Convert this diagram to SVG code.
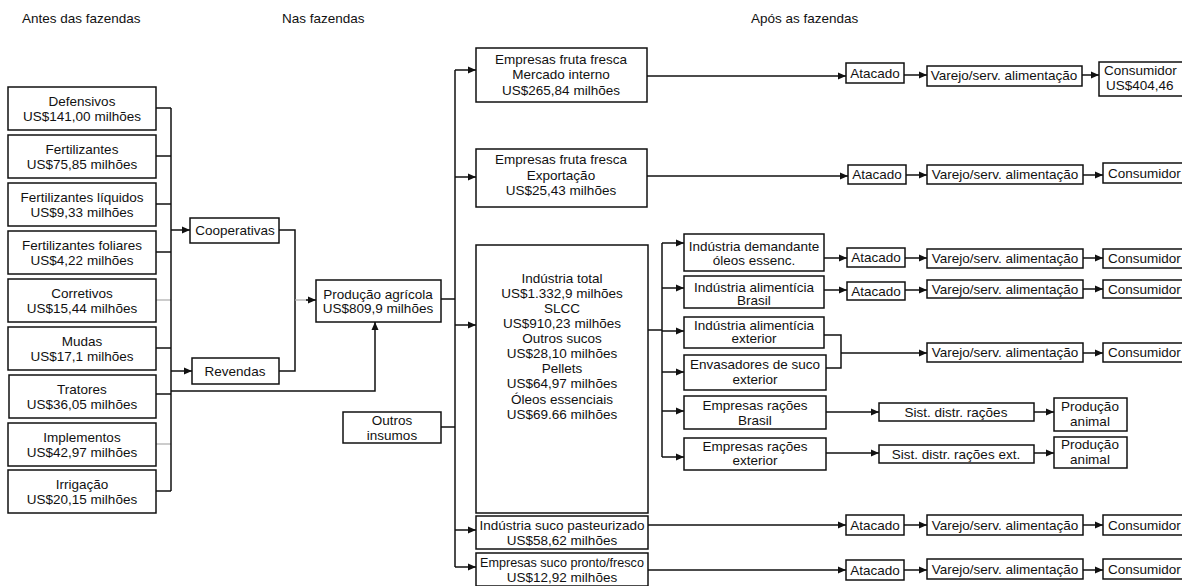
<svg xmlns="http://www.w3.org/2000/svg" width="1182" height="586" viewBox="0 0 1182 586">
<style>
text{font-family:"Liberation Sans",Arial,sans-serif;font-size:13.5px;fill:#111;text-anchor:middle}
.t{text-anchor:start}
.s{text-anchor:start}
rect{fill:#fff;stroke:#111;stroke-width:1.5}
.c path{fill:none;stroke:#111;stroke-width:1.5}
.c path.g{stroke:#aaa;stroke-width:1.2}
.c path.a{marker-end:url(#ar)}
</style>
<defs>
<marker id="ar" markerUnits="userSpaceOnUse" markerWidth="9" markerHeight="8" refX="8" refY="4" orient="auto"><path d="M0,0.5 L8,4 L0,7.5 z" fill="#111"/></marker>
</defs>
<rect x="0" y="0" width="1182" height="586" style="stroke:none;fill:#fff"/>
<g id="titles">
<text class="t" x="22" y="23">Antes das fazendas</text>
<text class="t" x="282" y="23">Nas fazendas</text>
<text class="t" x="751" y="23">Após as fazendas</text>
</g>
<g class="c" id="connectors">
<path d="M156,108 H171"/><path d="M156,156 H171"/><path d="M156,204 H171"/><path d="M156,252 H171"/>
<path class="g" d="M156,300 H171"/><path d="M156,348 H171"/><path d="M156,394 H171"/><path class="g" d="M156,444 H171"/><path d="M156,491 H171"/>
<path d="M171,108 V491"/>
<path class="a" d="M171,230 H190"/>
<path class="a" d="M171,371 H192"/>
<path class="a" d="M171,391 H375 V322"/>
<path d="M279,230 H295 V371 H279"/>
<path class="g" d="M295,300 H308"/><path class="a" d="M306,300 H316"/>
<path d="M441,299 H455"/>
<path d="M441,427 H455"/>
<path d="M455,70 V567"/>
<path class="a" d="M455,70 H476"/><path class="a" d="M455,177 H476"/><path class="a" d="M455,325 H476"/><path class="a" d="M455,530 H476"/><path class="a" d="M455,567 H476"/>
<path class="a" d="M647,76 H846"/><path class="a" d="M904,75 H927"/><path class="a" d="M1082,75 H1099"/>
<path class="a" d="M647,176 H848"/><path class="a" d="M906,175 H927"/><path class="a" d="M1083,175 H1103"/>
<path d="M648,330 H662"/>
<path d="M662,243 V457"/>
<path class="a" d="M662,243 H684"/><path class="a" d="M662,288 H684"/><path class="a" d="M662,331 H684"/><path class="a" d="M662,372 H684"/><path class="a" d="M662,411 H684"/><path class="a" d="M662,457 H684"/>
<path class="a" d="M824,258 H847"/><path class="a" d="M905,258 H927"/><path class="a" d="M1083,258 H1103"/>
<path class="a" d="M824,290 H847"/><path class="a" d="M905,290 H927"/><path class="a" d="M1083,289 H1103"/>
<path d="M824,335 H841 V368 H826"/><path class="a" d="M841,353 H927"/><path class="a" d="M1083,353 H1103"/>
<path class="a" d="M826,412 H879"/><path class="a" d="M1034,412 H1054"/>
<path class="a" d="M826,453 H879"/><path class="a" d="M1034,453 H1054"/>
<path class="a" d="M648,525 H846"/><path class="a" d="M904,525 H927"/><path class="a" d="M1083,525 H1103"/>
<path class="a" d="M648,570 H846"/><path class="a" d="M904,570 H927"/><path class="a" d="M1083,570 H1103"/>
</g>
<g id="defensivos"><rect x="8" y="87" width="148" height="43"/><text x="82" y="106">Defensivos</text><text x="82" y="121">US$141,00 milhões</text></g>
<g id="fertilizantes"><rect x="8" y="135" width="148" height="43"/><text x="82" y="154">Fertilizantes</text><text x="82" y="169">US$75,85 milhões</text></g>
<g id="fert-liquidos"><rect x="8" y="183" width="148" height="43"/><text x="82" y="202">Fertilizantes líquidos</text><text x="82" y="217">US$9,33 milhões</text></g>
<g id="fert-foliares"><rect x="8" y="231" width="148" height="43"/><text x="82" y="250">Fertilizantes foliares</text><text x="82" y="265">US$4,22 milhões</text></g>
<g id="corretivos"><rect x="8" y="279" width="148" height="43"/><text x="82" y="298">Corretivos</text><text x="82" y="313">US$15,44 milhões</text></g>
<g id="mudas"><rect x="8" y="327" width="148" height="43"/><text x="82" y="346">Mudas</text><text x="82" y="361">US$17,1 milhões</text></g>
<g id="tratores"><rect x="9" y="375" width="147" height="43"/><text x="82" y="394">Tratores</text><text x="82" y="409">US$36,05 milhões</text></g>
<g id="implementos"><rect x="8" y="423" width="148" height="43"/><text x="82" y="442">Implementos</text><text x="82" y="457">US$42,97 milhões</text></g>
<g id="irrigacao"><rect x="8" y="470" width="148" height="43"/><text x="82" y="489">Irrigação</text><text x="82" y="504">US$20,15 milhões</text></g>
<g id="cooperativas"><rect x="190" y="218" width="89" height="25"/><text x="235" y="235">Cooperativas</text></g>
<g id="revendas"><rect x="192" y="358" width="87" height="26"/><text x="235" y="376">Revendas</text></g>
<g id="producao"><rect x="316" y="280" width="125" height="42"/><text x="378" y="299">Produção agrícola</text><text x="378" y="313">US$809,9 milhões</text></g>
<g id="outros-insumos"><rect x="343" y="412" width="98" height="31"/><text x="392" y="425">Outros</text><text x="392" y="440">insumos</text></g>
<g id="fruta-interno"><rect x="476" y="48" width="171" height="54"/><text x="561" y="64">Empresas fruta fresca</text><text x="561" y="79">Mercado interno</text><text x="561" y="95">US$265,84 milhões</text></g>
<g id="fruta-export"><rect x="476" y="149" width="171" height="58"/><text x="561" y="164">Empresas fruta fresca</text><text x="561" y="180">Exportação</text><text x="561" y="195">US$25,43 milhões</text></g>
<g id="industria-total"><rect x="476" y="245" width="172" height="268"/>
<text x="562" y="283">Indústria total</text><text x="562" y="298">US$1.332,9 milhões</text><text x="562" y="313">SLCC</text><text x="562" y="328">US$910,23 milhões</text><text x="562" y="343">Outros sucos</text><text x="562" y="358">US$28,10 milhões</text><text x="562" y="373">Pellets</text><text x="562" y="388">US$64,97 milhões</text><text x="562" y="404">Óleos essenciais</text><text x="562" y="419">US$69.66 milhões</text></g>
<g id="ind-pasteurizado"><rect x="476" y="516" width="172" height="33"/><text x="562" y="530">Indústria suco pasteurizado</text><text x="562" y="545">US$58,62 milhões</text></g>
<g id="suco-pronto"><rect x="476" y="553" width="172" height="33"/><text x="562" y="567" style="font-size:12.6px">Empresas suco pronto/fresco</text><text x="562" y="582">US$12,92 milhões</text></g>
<g id="ind-oleos"><rect x="684" y="234" width="140" height="37"/><text x="754" y="251">Indústria demandante</text><text x="754" y="265">óleos essenc.</text></g>
<g id="ind-alim-brasil"><rect x="684" y="276" width="140" height="32"/><text x="754" y="292">Indústria alimentícia</text><text x="754" y="305">Brasil</text></g>
<g id="ind-alim-exterior"><rect x="684" y="317" width="140" height="31"/><text x="754" y="330">Indústria alimentícia</text><text x="754" y="343">exterior</text></g>
<g id="envasadores"><rect x="684" y="355" width="142" height="35"/><text x="755" y="369">Envasadores de suco</text><text x="755" y="384">exterior</text></g>
<g id="racoes-brasil"><rect x="684" y="396" width="142" height="33"/><text x="755" y="410">Empresas rações</text><text x="755" y="425">Brasil</text></g>
<g id="racoes-exterior"><rect x="684" y="438" width="142" height="32"/><text x="755" y="451">Empresas rações</text><text x="755" y="465">exterior</text></g>
<g id="atacado-1"><rect x="846" y="63" width="58" height="20"/><text x="875" y="78">Atacado</text></g>
<g id="varejo-1"><rect x="927" y="66" width="155" height="20"/><text x="1004" y="80">Varejo/serv. alimentação</text></g>
<g id="consumidor-1"><rect x="1099" y="62" width="90" height="34"/><text class="s" x="1104" y="75">Consumidor</text><text class="s" x="1106" y="90">US$404,46</text></g>
<g id="atacado-2"><rect x="848" y="165" width="58" height="19"/><text x="877" y="179">Atacado</text></g>
<g id="varejo-2"><rect x="927" y="165" width="156" height="19"/><text x="1005" y="179">Varejo/serv. alimentação</text></g>
<g id="consumidor-2"><rect x="1103" y="163" width="86" height="20"/><text class="s" x="1108" y="178">Consumidor</text></g>
<g id="atacado-3"><rect x="847" y="248" width="58" height="19"/><text x="876" y="262">Atacado</text></g>
<g id="varejo-3"><rect x="927" y="249" width="156" height="19"/><text x="1005" y="263">Varejo/serv. alimentação</text></g>
<g id="consumidor-3"><rect x="1103" y="249" width="86" height="19"/><text class="s" x="1108" y="263">Consumidor</text></g>
<g id="atacado-4"><rect x="847" y="282" width="58" height="18"/><text x="876" y="296">Atacado</text></g>
<g id="varejo-4"><rect x="927" y="280" width="156" height="18"/><text x="1005" y="294">Varejo/serv. alimentação</text></g>
<g id="consumidor-4"><rect x="1103" y="280" width="86" height="18"/><text class="s" x="1108" y="294">Consumidor</text></g>
<g id="varejo-5"><rect x="927" y="343" width="156" height="19"/><text x="1005" y="357">Varejo/serv. alimentação</text></g>
<g id="consumidor-5"><rect x="1103" y="343" width="86" height="19"/><text class="s" x="1108" y="357">Consumidor</text></g>
<g id="sist-racoes"><rect x="879" y="403" width="155" height="18"/><text x="956" y="417">Sist. distr. rações</text></g>
<g id="prod-animal-1"><rect x="1054" y="398" width="73" height="33"/><text x="1090" y="411">Produção</text><text x="1090" y="426">animal</text></g>
<g id="sist-racoes-ext"><rect x="879" y="445" width="155" height="18"/><text x="956" y="459">Sist. distr. rações ext.</text></g>
<g id="prod-animal-2"><rect x="1054" y="437" width="73" height="31"/><text x="1090" y="449">Produção</text><text x="1090" y="464">animal</text></g>
<g id="atacado-6"><rect x="846" y="515" width="58" height="20"/><text x="875" y="530">Atacado</text></g>
<g id="varejo-6"><rect x="927" y="515" width="156" height="20"/><text x="1005" y="530">Varejo/serv. alimentação</text></g>
<g id="consumidor-6"><rect x="1103" y="515" width="86" height="20"/><text class="s" x="1108" y="530">Consumidor</text></g>
<g id="atacado-7"><rect x="846" y="560" width="58" height="20"/><text x="875" y="575">Atacado</text></g>
<g id="varejo-7"><rect x="927" y="559" width="156" height="20"/><text x="1005" y="574">Varejo/serv. alimentação</text></g>
<g id="consumidor-7"><rect x="1103" y="559" width="86" height="20"/><text class="s" x="1108" y="574">Consumidor</text></g>
</svg>
